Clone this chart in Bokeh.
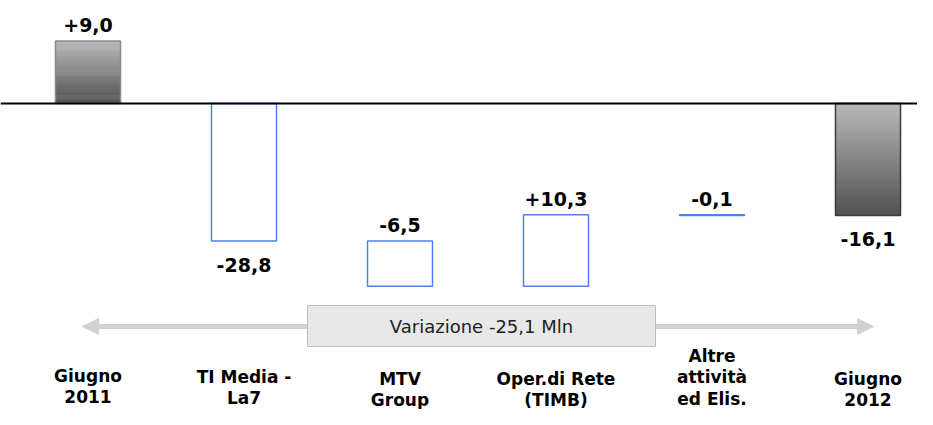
from bokeh.plotting import figure
from bokeh.models import Range1d, Span, Arrow, NormalHead, BoxAnnotation, Label, ColumnDataSource
from bokeh.core.properties import value
from bokeh.embed import file_html
from bokeh.resources import INLINE

# ---------------- data ----------------
categories = ["Giugno\n2011", "TI Media -\nLa7", "MTV\nGroup",
              "Oper.di Rete\n(TIMB)", "Altre\nattività\ned Elis.", "Giugno\n2012"]
values = [9.0, -28.8, -6.5, 10.3, -0.1, -16.1]
kinds = ["total", "delta", "delta", "delta", "delta", "total"]
summary_text = "Variazione -25,1 Mln"

# ---------------- layout / style ----------------
W, H = 917, 409
PX_PER_UNIT = 6.95
ZERO_PX = 103.0
X0_PX = 87.5
STEP_PX = 156.0
BAR_W = 65.0 / STEP_PX
label_side = ["above", "below", "above", "above", "above", "below"]
cat_center_px = [386, 387, 389, 389, 377, 389]
total_border = ["#8a8a8a", None, None, None, None, "#3a3a3a"]
BLUE = "#4f7ff5"
FONT = "DejaVu Sans"


def px_to_y(py):
    return (ZERO_PX - py) / PX_PER_UNIT


def px_to_x(px):
    return (px - X0_PX) / STEP_PX


p = figure(width=W, height=H, output_backend="svg", toolbar_location=None,
           x_range=Range1d(px_to_x(0), px_to_x(W)),
           y_range=Range1d(px_to_y(H), px_to_y(0)),
           min_border=0, outline_line_color=None)
p.xaxis.visible = False
p.yaxis.visible = False
p.xgrid.visible = False
p.ygrid.visible = False
p.background_fill_color = "white"
p.border_fill_color = "white"

# ---------------- compute waterfall ----------------
bottoms, tops = [], []
running = 0.0
for v, k in zip(values, kinds):
    if k == "total":
        b, t = min(0.0, v), max(0.0, v)
        running = v
    else:
        prev, new = running, running + v
        b, t = min(prev, new), min(max(prev, new), 0.0)
        running = new
    bottoms.append(b)
    tops.append(t)

xs = list(range(len(values)))

# total bars with vertical gradient
N = 60
for i in xs:
    if kinds[i] != "total":
        continue
    t, b = tops[i], bottoms[i]
    h = t - b
    sl_l, sl_r, sl_t, sl_b, cols = [], [], [], [], []
    for k in range(N):
        y_top = t - h * k / N
        y_bot = max(b, t - h * (k + 1.5) / N)
        f = k / (N - 1)
        c = int(round(184 - f * (184 - 82)))
        sl_l.append(i - BAR_W / 2)
        sl_r.append(i + BAR_W / 2)
        sl_t.append(y_top)
        sl_b.append(y_bot)
        cols.append("#%02x%02x%02x" % (c, c, c))
    p.quad(left=sl_l, right=sl_r, top=sl_t, bottom=sl_b, fill_color=cols, line_color=None)
    p.quad(left=[i - BAR_W / 2], right=[i + BAR_W / 2], top=[t], bottom=[b],
           fill_color=None, line_color=total_border[i], line_width=1.5)

# delta bars: blue outline
d_idx = [i for i in xs if kinds[i] == "delta"]
p.quad(left=[i - BAR_W / 2 for i in d_idx], right=[i + BAR_W / 2 for i in d_idx],
       top=[tops[i] for i in d_idx], bottom=[bottoms[i] for i in d_idx],
       fill_color="white", line_color=BLUE, line_width=1.5)

# zero line
p.add_layout(Span(location=0, dimension="width", line_color="black", line_width=2))

# value labels
lab_txt = [("%+.1f" % v).replace(".", ",") for v in values]
lab_y = [tops[i] if label_side[i] == "above" else bottoms[i] for i in xs]
lab_off = [-16 if label_side[i] == "above" else 24 for i in xs]
src = ColumnDataSource(dict(x=xs, y=lab_y, text=lab_txt, off=lab_off))
p.text(x="x", y="y", text="text", y_offset="off", source=src,
       text_align="center", text_baseline="alphabetic",
       text_font=value(FONT), text_font_style="bold", text_font_size="19px",
       text_color="black")

# category labels
csrc = ColumnDataSource(dict(x=xs, y=[px_to_y(c) for c in cat_center_px], text=categories))
p.text(x="x", y="y", text="text", source=csrc, text_align="center", text_baseline="middle",
       text_font=value(FONT), text_font_style="bold", text_font_size="17px",
       text_color="black", text_line_height=1.08)

# arrow + summary box
ay = px_to_y(326)
head_kw = dict(size=16, fill_color="#d2d2d2", line_color="#d2d2d2")
p.add_layout(Arrow(x_start=px_to_x(82), y_start=ay, x_end=px_to_x(873), y_end=ay,
                   start=NormalHead(**head_kw), end=NormalHead(**head_kw),
                   line_color="#d2d2d2", line_width=5))
bl, br = px_to_x(307), px_to_x(655)
bt, bb = px_to_y(305), px_to_y(346)
p.add_layout(BoxAnnotation(left=bl, right=br, top=bt, bottom=bb,
                           fill_color="#e8e8e8", fill_alpha=1.0,
                           line_color="#bdbdbd", line_width=1, line_alpha=1.0))
p.add_layout(Label(x=(bl + br) / 2, y=(bt + bb) / 2, text=summary_text,
                   text_align="center", text_baseline="middle",
                   text_font=FONT, text_font_size="18px", text_color="#222222"))

open("out.html", "w").write(file_html(p, INLINE))
